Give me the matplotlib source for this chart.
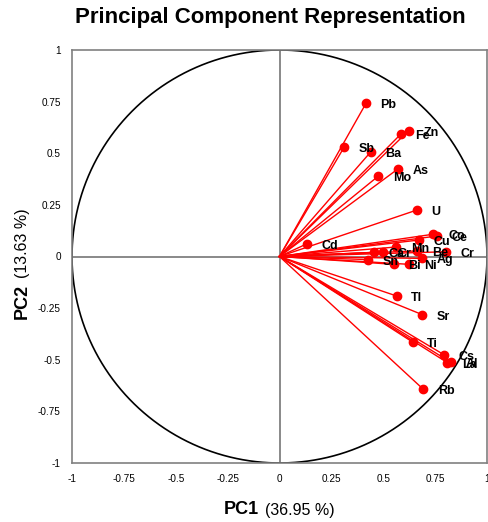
import matplotlib.pyplot as plt
import numpy as np

# loadings
elements = ['Pb', 'Zn', 'Fe', 'Sb', 'Ba', 'As', 'Mo', 'U', 'Cd', 'Co', 'Ce',
            'Cu', 'Mn', 'Cr', 'Be', 'Ca', 'Cr', 'Ag', 'Sn', 'Bi', 'Ni',
            'Tl', 'Sr', 'Ti', 'Cs', 'La', 'Al', 'Rb']
pc1 = [0.417, 0.622, 0.585, 0.313, 0.441, 0.572, 0.477, 0.662, 0.131, 0.742, 0.758,
       0.673, 0.562, 0.804, 0.663, 0.457, 0.500, 0.686, 0.425, 0.550, 0.625,
       0.564, 0.689, 0.641, 0.793, 0.809, 0.825, 0.692]
pc2 = [0.742, 0.609, 0.593, 0.532, 0.508, 0.425, 0.390, 0.225, 0.061, 0.108, 0.099,
       0.080, 0.046, 0.023, 0.027, 0.020, 0.022, -0.009, -0.015, -0.038, -0.038,
       -0.191, -0.282, -0.414, -0.476, -0.514, -0.512, -0.642]
ticks = [-1, -0.75, -0.5, -0.25, 0, 0.25, 0.5, 0.75, 1]
tick_labels = ['-1', '-0.75', '-0.5', '-0.25', '0', '0.25', '0.5', '0.75', '1']

plt.rcParams['font.family'] = ['Liberation Sans', 'DejaVu Sans']

W, H = 489, 522
fig = plt.figure(figsize=(W / 100, H / 100), dpi=100)
ax = fig.add_axes([72 / W, 1 - 463 / H, 415 / W, 413 / H])

# unit circle
t = np.linspace(0, 2 * np.pi, 400)
ax.plot(np.cos(t), np.sin(t), color='black', lw=1.2, zorder=2)

# axes through the origin
ax.axhline(0, color='#808080', lw=1.3, zorder=1)
ax.axvline(0, color='#808080', lw=1.3, zorder=1)

for x, y, name in zip(pc1, pc2, elements):
    ax.plot([0, x], [0, y], color='red', lw=1.0, zorder=3)
    ax.plot(x, y, 'o', color='red', ms=6, zorder=4)
    ax.annotate(name, (x, y), xytext=(10.5, -1.5), textcoords='offset points',
                ha='left', va='center', fontsize=9, fontweight='bold', zorder=5)

ax.set_xlim(-1, 1)
ax.set_ylim(-1, 1)
ax.set_xticks(ticks)
ax.set_xticklabels(tick_labels)
ax.set_yticks(ticks)
ax.set_yticklabels(tick_labels)
ax.tick_params(length=0, labelsize=7.2, pad=8)
for s in ax.spines.values():
    s.set_color('#808080')
    s.set_linewidth(1.2)

fig.text(270 / W, 1 - 18 / H, 'Principal Component Representation',
         ha='center', va='center', fontsize=16, fontweight='bold')

# axis titles: bold name + regular percentage
fig.text(259 / W, 1 - 510 / H, 'PC1', ha='right', va='center',
         fontsize=13, fontweight='bold')
fig.text(265 / W, 1 - 510 / H, '(36.95 %)', ha='left', va='center', fontsize=11.5)
fig.text(22 / W, 1 - 284 / H, 'PC2', ha='center', va='top', rotation=90,
         fontsize=13, fontweight='bold')
fig.text(22 / W, 1 - 278 / H, '(13.63 %)', ha='center', va='bottom', rotation=90,
         fontsize=11.5)

fig.savefig('out.png', dpi=100)
